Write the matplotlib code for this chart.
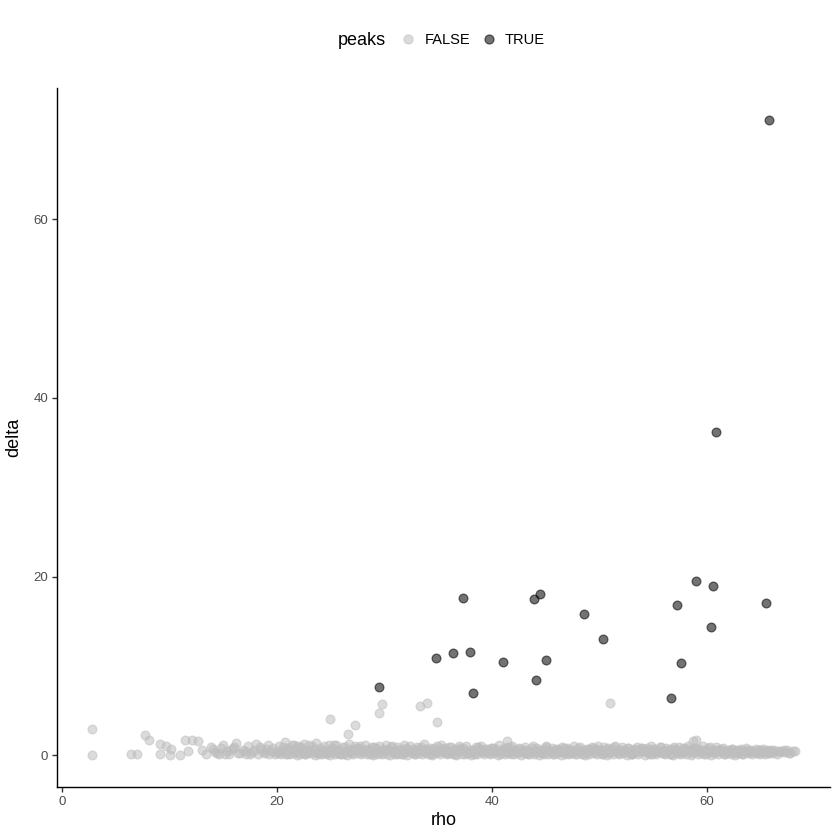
import matplotlib.pyplot as plt
from matplotlib.lines import Line2D

plt.rcParams['font.family'] = ['Liberation Sans', 'DejaVu Sans']

# peaks == TRUE
peak_rho = [65.8, 60.9, 59.0, 60.6, 65.5, 57.2, 60.4, 57.6, 56.7, 48.6, 50.3,
            44.5, 43.9, 37.3, 34.8, 36.4, 38.0, 38.2, 41.0, 45.0, 44.1, 29.5]
peak_delta = [71.1, 36.2, 19.5, 18.9, 17.1, 16.8, 14.4, 10.3, 6.4, 15.8, 13.0,
              18.0, 17.5, 17.6, 10.9, 11.4, 11.6, 7.0, 10.4, 10.7, 8.4, 7.7]

# peaks == FALSE, the scattered ones away from the band
low_rho = [2.8, 2.8, 6.4, 7.0, 7.7, 8.1, 9.1, 9.1, 9.7, 10.1, 10.0, 11.0,
           11.4, 12.1, 12.6, 11.7, 24.9, 26.6, 27.3, 29.5, 29.8, 33.3, 34.0,
           34.9, 41.4, 51.0, 58.7, 59.0]
low_delta = [2.9, 0.0, 0.1, 0.1, 2.3, 1.7, 1.3, 0.2, 1.0, 0.7, 0.0, 0.0,
             1.7, 1.7, 1.6, 0.5, 4.1, 2.4, 3.4, 4.7, 5.7, 5.5, 5.9,
             3.7, 1.6, 5.8, 1.6, 1.7]

# peaks == FALSE, the dense band along the bottom
band_rho = [
    13.0, 13.4, 13.9, 14.2, 14.6, 15.0, 15.3, 15.5, 15.9, 16.2, 16.4,
    16.8, 17.1, 17.3, 17.7, 18.0, 18.2, 18.5, 18.9, 19.2, 19.4, 19.8,
    20.1, 20.2, 20.4, 20.5, 20.7, 20.8, 20.95,
    21.05, 21.2, 21.4, 21.55, 21.7, 21.85, 21.95,
    22.1, 22.25, 22.4, 22.5, 22.65, 22.8, 22.9,
    23.0, 23.15, 23.35, 23.5, 23.6, 23.8, 23.95,
    24.1, 24.2, 24.35, 24.55, 24.7, 24.85, 24.95,
    25.05, 25.2, 25.4, 25.5, 25.65, 25.8, 25.9,
    26.1, 26.25, 26.4, 26.55, 26.7, 26.8, 26.95,
    27.05, 27.2, 27.3, 27.5, 27.65, 27.8, 27.9,
    28.1, 28.2, 28.4, 28.55, 28.7, 28.85, 28.95,
    29.05, 29.2, 29.35, 29.5, 29.6, 29.75, 29.9,
    30.1, 30.25, 30.4, 30.5, 30.65, 30.8, 30.95,
    31.0, 31.15, 31.3, 31.5, 31.65, 31.8, 31.9,
    32.1, 32.2, 32.35, 32.55, 32.7, 32.85, 32.95,
    33.05, 33.2, 33.4, 33.5, 33.65, 33.8, 33.9,
    34.1, 34.25, 34.4, 34.55, 34.7, 34.85, 34.95,
    35.05, 35.2, 35.3, 35.5, 35.65, 35.8, 35.9,
    36.1, 36.2, 36.4, 36.55, 36.7, 36.85, 36.95,
    37.05, 37.2, 37.35, 37.5, 37.6, 37.75, 37.9,
    38.1, 38.25, 38.4, 38.5, 38.65, 38.8, 38.95,
    39.0, 39.15, 39.3, 39.5, 39.65, 39.8, 39.9,
    40.1, 40.2, 40.35, 40.55, 40.7, 40.85, 40.95,
    41.05, 41.2, 41.4, 41.5, 41.65, 41.8, 41.9,
    42.1, 42.25, 42.4, 42.55, 42.7, 42.8, 42.95,
    43.05, 43.2, 43.3, 43.5, 43.65, 43.8, 43.9,
    44.1, 44.2, 44.4, 44.55, 44.7, 44.85, 44.95,
    45.05, 45.2, 45.35, 45.5, 45.6, 45.75, 45.9,
    46.1, 46.25, 46.4, 46.5, 46.65, 46.8, 46.95,
    47.0, 47.15, 47.3, 47.5, 47.65, 47.8, 47.9,
    48.1, 48.2, 48.35, 48.55, 48.7, 48.85, 48.95,
    49.05, 49.2, 49.4, 49.5, 49.65, 49.8, 49.9,
    50.1, 50.25, 50.4, 50.55, 50.7, 50.8, 50.95,
    51.05, 51.2, 51.3, 51.5, 51.65, 51.8, 51.9,
    52.1, 52.2, 52.4, 52.55, 52.7, 52.85, 52.95,
    53.05, 53.2, 53.35, 53.5, 53.6, 53.75, 53.9,
    54.1, 54.25, 54.4, 54.5, 54.65, 54.8, 54.95,
    55.0, 55.15, 55.3, 55.5, 55.65, 55.8, 55.9,
    56.1, 56.2, 56.35, 56.55, 56.7, 56.85, 56.95,
    57.05, 57.2, 57.4, 57.5, 57.65, 57.8, 57.9,
    58.1, 58.25, 58.4, 58.55, 58.7, 58.8, 58.95,
    59.05, 59.2, 59.3, 59.5, 59.65, 59.8, 59.9,
    60.1, 60.2, 60.4, 60.55, 60.7, 60.85, 60.95,
    61.05, 61.2, 61.35, 61.5, 61.6, 61.75, 61.9,
    62.1, 62.25, 62.4, 62.5, 62.65, 62.8, 62.95,
    63.05, 63.2, 63.3, 63.5, 63.65, 63.8, 63.9,
    64.1, 64.2, 64.35, 64.55, 64.7, 64.85, 64.95,
    65.05, 65.2, 65.4, 65.5, 65.65, 65.8, 65.9,
    66.1, 66.3, 66.5, 66.8, 67.0, 67.2, 67.5, 67.8, 68.2,
]
band_delta = [
    0.6, 0.2, 0.9, 0.4, 0.1, 1.2, 0.5, 0.2, 0.8, 1.4, 0.3,
    0.6, 0.1, 1.0, 0.4, 1.3, 0.2, 0.7, 0.3, 1.1, 0.5, 0.1,
    0.3, 1.0, 0.1, 0.6, 1.5, 0.2, 0.8,
    0.5, 0.1, 1.2, 0.3, 0.7, 0.05, 1.0,
    0.2, 0.9, 0.4, 1.3, 0.1, 0.6, 0.3,
    1.1, 0.3, 0.7, 0.05, 1.4, 0.4, 0.2,
    0.6, 0.1, 1.0, 0.3, 0.5, 1.2, 0.05,
    0.4, 0.8, 0.15, 1.1, 0.3, 0.6, 0.1,
    0.9, 0.2, 0.5, 0.05, 1.3, 0.35, 0.7,
    0.1, 0.6, 1.0, 0.3, 0.8, 0.15, 0.5,
    0.45, 1.2, 0.1, 0.7, 0.25, 0.95, 0.05,
    0.3, 0.8, 0.1, 1.0, 0.5, 0.2, 0.65,
    1.1, 0.2, 0.6, 0.05, 0.9, 0.4, 0.15,
    0.5, 0.9, 0.2, 0.7, 0.1, 1.2, 0.35,
    0.05, 0.6, 1.0, 0.3, 0.75, 0.15, 0.5,
    0.9, 0.25, 0.55, 0.1, 1.3, 0.4, 0.7,
    0.2, 0.8, 0.05, 0.6, 0.3, 1.0, 0.45,
    0.65, 0.1, 1.1, 0.35, 0.8, 0.2, 0.5,
    0.3, 0.9, 0.15, 0.7, 0.05, 0.5, 1.05,
    0.8, 0.2, 0.55, 0.1, 1.0, 0.4, 0.25,
    0.05, 0.6, 0.3, 0.95, 0.2, 0.75, 0.45,
    1.0, 0.35, 0.1, 0.7, 0.5, 0.15, 0.85,
    0.25, 0.8, 0.5, 0.05, 1.1, 0.4, 0.6,
    0.7, 0.1, 0.9, 0.3, 0.55, 0.2, 1.0,
    0.15, 0.6, 0.35, 0.85, 0.05, 0.5, 0.3,
    0.9, 0.25, 0.65, 0.1, 0.45, 1.05, 0.2,
    0.4, 0.8, 0.05, 0.6, 0.3, 0.15, 0.75,
    1.0, 0.2, 0.5, 0.35, 0.85, 0.1, 0.6,
    0.3, 0.7, 0.05, 0.95, 0.4, 0.2, 0.55,
    0.8, 0.15, 0.6, 0.3, 1.0, 0.45, 0.1,
    0.5, 0.9, 0.2, 0.65, 0.05, 0.75, 0.35,
    0.15, 0.55, 0.85, 0.3, 0.7, 0.1, 1.0,
    0.6, 0.2, 0.95, 0.4, 0.05, 0.8, 0.3,
    0.35, 0.75, 0.1, 1.05, 0.5, 0.2, 0.65,
    0.9, 0.3, 0.55, 0.05, 0.8, 0.4, 0.15,
    0.2, 0.7, 0.4, 0.95, 0.1, 0.6, 0.85,
    0.5, 0.05, 0.8, 0.3, 0.65, 1.0, 0.2,
    0.75, 0.35, 0.1, 0.6, 0.9, 0.25, 0.5,
    0.1, 0.85, 0.45, 0.2, 0.7, 0.05, 0.95,
    0.6, 0.3, 0.9, 0.15, 0.5, 0.8, 0.35,
    0.2, 1.0, 0.55, 0.05, 0.75, 0.4, 0.85,
    0.45, 0.1, 0.7, 0.3, 1.05, 0.6, 0.2,
    0.8, 0.35, 0.05, 0.65, 0.25, 0.9, 0.5,
    0.15, 0.6, 0.4, 0.85, 0.1, 0.5, 0.3,
    0.55, 0.2, 0.75, 0.35, 0.05, 0.65, 0.4,
    0.3, 0.7, 0.1, 0.5, 0.8, 0.25, 0.45,
    0.6, 0.15, 0.4, 0.75, 0.3, 0.55, 0.1,
    0.35, 0.7, 0.2, 0.5, 0.6, 0.25, 0.45,
    0.3, 0.6, 0.2, 0.5, 0.4, 0.65, 0.55, 0.3, 0.45,
]

# more of the band, it is very crowded between rho 14 and 66
band2_rho = [
    14.0, 14.4, 14.8, 15.2, 15.7, 16.0, 16.6, 17.0, 17.5, 17.9, 18.4,
    18.7, 19.0, 19.3, 19.6, 19.9,
    20.3, 20.6, 20.9, 21.3, 21.6, 21.9, 22.2, 22.6, 22.95, 23.25, 23.7,
    24.0, 24.3, 24.65, 25.0, 25.3, 25.7, 26.0, 26.35, 26.65, 27.0, 27.4,
    27.7, 28.0, 28.3, 28.65, 29.0, 29.3, 29.7, 30.0, 30.35, 30.7, 31.05,
    31.4, 31.75, 32.0, 32.4, 32.8, 33.1, 33.45, 33.75, 34.0, 34.35, 34.65,
    35.0, 35.4, 35.7, 36.0, 36.3, 36.65, 37.0, 37.3, 37.65, 38.0, 38.35,
    38.7, 39.1, 39.4, 39.75, 40.0, 40.4, 40.75, 41.1, 41.35, 41.7, 42.0,
    42.35, 42.65, 43.0, 43.4, 43.7, 44.0, 44.3, 44.65, 45.0, 45.3, 45.65,
    46.0, 46.35, 46.7, 47.1, 47.4, 47.75, 48.0, 48.3, 48.65, 49.0, 49.3,
    49.7, 50.0, 50.35, 50.65, 51.0, 51.4, 51.75, 52.0, 52.3, 52.65, 53.0,
    53.3, 53.65, 54.0, 54.35, 54.7, 55.05, 55.4, 55.75, 56.0, 56.3, 56.65,
    57.0, 57.3, 57.7, 58.0, 58.3, 58.65, 59.0, 59.4, 59.75, 60.0, 60.3,
    60.65, 61.0, 61.3, 61.7, 62.0, 62.35, 62.7, 63.0, 63.4, 63.75, 64.0,
    64.3, 64.65, 65.0, 65.3, 65.7, 66.0, 66.4, 66.7, 67.3, 67.7, 68.0,
]
band2_delta = [
    0.7, 0.3, 0.8, 0.2, 0.6, 0.9, 0.25, 0.5, 0.15, 0.6, 0.9,
    0.35, 0.7, 0.1, 0.8, 0.4,
    0.4, 0.9, 0.2, 0.7, 1.1, 0.35, 0.8, 0.15, 0.55, 1.0, 0.3,
    0.85, 0.45, 0.2, 0.75, 1.2, 0.4, 0.1, 0.95, 0.5, 0.25, 0.85,
    1.05, 0.35, 0.6, 0.15, 0.9, 0.45, 0.25, 0.75, 0.55, 1.0, 0.3,
    0.65, 0.2, 0.85, 0.45, 0.15, 0.7, 0.95, 0.35, 0.55, 0.2, 0.8,
    0.4, 0.7, 0.25, 0.9, 0.45, 0.15, 0.65, 0.85, 0.3, 0.55, 0.2,
    0.9, 0.4, 0.7, 0.25, 0.85, 0.5, 0.15, 0.75, 0.35, 0.95, 0.45,
    0.25, 0.7, 0.55, 0.15, 0.85, 0.4, 0.65, 0.25, 0.9, 0.5, 0.2,
    0.7, 0.45, 0.85, 0.3, 0.6, 0.15, 0.8, 0.45, 0.25, 0.7, 0.95,
    0.35, 0.55, 0.2, 0.75, 0.45, 0.9, 0.25, 0.6, 0.4, 0.8, 0.15,
    0.65, 0.35, 0.85, 0.5, 0.2, 0.7, 0.4, 0.9, 0.3, 0.6, 0.15,
    0.75, 0.45, 0.25, 0.85, 0.55, 0.3, 0.7, 0.45, 0.2, 0.6, 0.9,
    0.35, 0.55, 0.75, 0.2, 0.45, 0.7, 0.3, 0.55, 0.2, 0.65, 0.4,
    0.5, 0.25, 0.6, 0.4, 0.3, 0.55, 0.35, 0.5, 0.4, 0.3, 0.5,
]

false_rho = low_rho + band_rho + band2_rho
false_delta = low_delta + band_delta + band2_delta

grey_col = '#BEBEBE'
black_col = '#000000'
alpha = 0.55
pt_size = 40

fig = plt.figure(figsize=(8.4, 8.4), dpi=100)
ax = fig.add_axes([0.068, 0.063, 0.920, 0.832])

ax.scatter(false_rho, false_delta, s=pt_size, color=grey_col, alpha=alpha,
           linewidths=0.9, edgecolors=grey_col)
ax.scatter(peak_rho, peak_delta, s=pt_size, color=black_col, alpha=alpha,
           linewidths=0.9, edgecolors=black_col)

# ggplot-style 5% expansion
all_x = false_rho + peak_rho
all_y = false_delta + peak_delta
xr = max(all_x) - min(all_x)
yr = max(all_y) - min(all_y)
ax.set_xlim(min(all_x) - 0.05 * xr, max(all_x) + 0.05 * xr)
ax.set_ylim(min(all_y) - 0.05 * yr, max(all_y) + 0.05 * yr)

ax.set_xticks([0, 20, 40, 60])
ax.set_yticks([0, 20, 40, 60])
for side in ['top', 'right']:
    ax.spines[side].set_visible(False)
for side in ['left', 'bottom']:
    ax.spines[side].set_linewidth(1.0)
ax.tick_params(length=3.5, width=1.0, color='#333333', labelsize=9.5,
               labelcolor='#4D4D4D', pad=3)
ax.set_xlabel('rho', fontsize=13, labelpad=3)
ax.set_ylabel('delta', fontsize=13, labelpad=8)

# legend on top, title to the left
fig.text(0.402, 0.952, 'peaks', fontsize=13, ha='left', va='center')
handles = [
    Line2D([], [], marker='o', linestyle='', markersize=6.5, color=grey_col,
           alpha=alpha, markeredgewidth=0.9),
    Line2D([], [], marker='o', linestyle='', markersize=6.5, color=black_col,
           alpha=alpha, markeredgewidth=0.9),
]
fig.legend(handles, ['FALSE', 'TRUE'], loc='center', ncol=2,
           bbox_to_anchor=(0.563, 0.952), frameon=False, fontsize=10.5,
           handlelength=1.0, handletextpad=0.6, columnspacing=0.8)

fig.savefig('out.png', dpi=100)
